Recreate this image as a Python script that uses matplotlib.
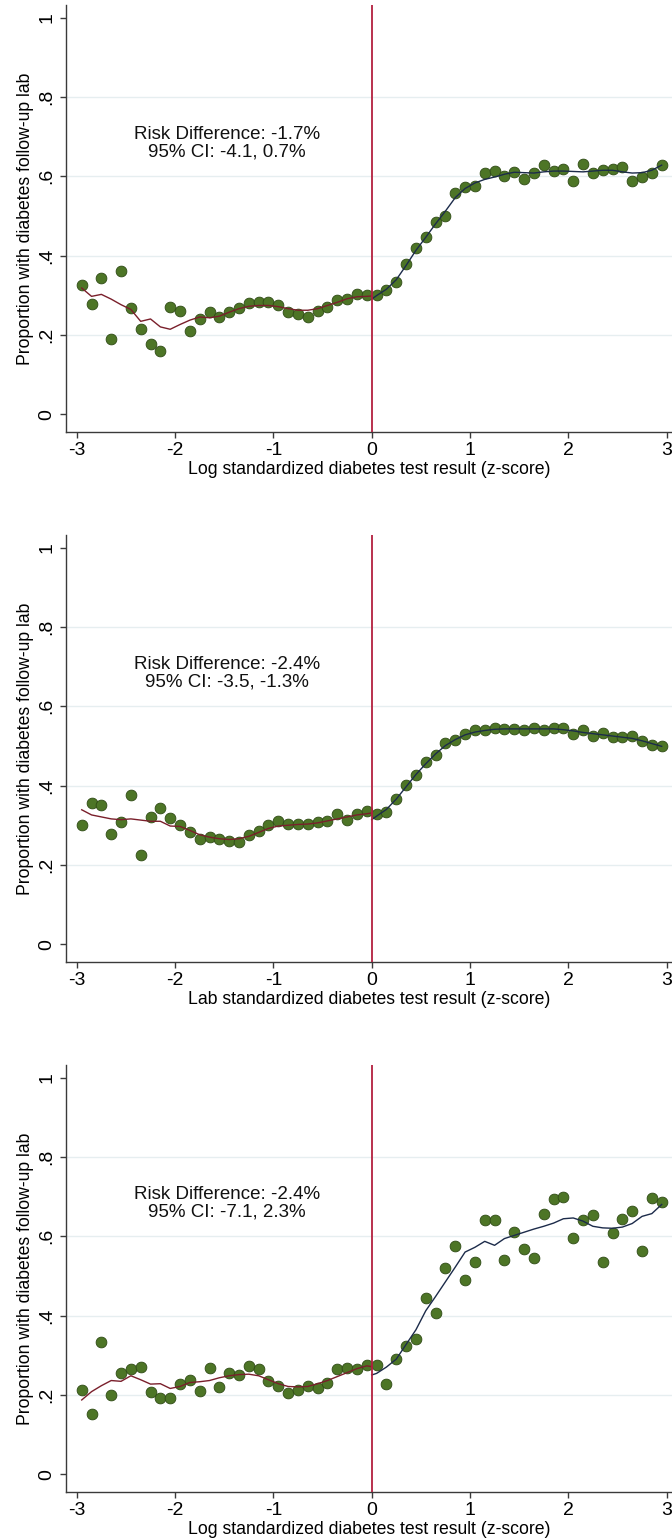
import matplotlib
matplotlib.use("Agg")
import matplotlib.pyplot as plt

plt.rcParams['font.family'] = ['Liberation Sans', 'DejaVu Sans']

# bin centres (z-score)
z_bins = [-2.95, -2.85, -2.75, -2.65, -2.55, -2.45, -2.35, -2.25, -2.15, -2.05,
          -1.95, -1.85, -1.75, -1.65, -1.55, -1.45, -1.35, -1.25, -1.15, -1.05,
          -0.95, -0.85, -0.75, -0.65, -0.55, -0.45, -0.35, -0.25, -0.15, -0.05,
          0.05, 0.15, 0.25, 0.35, 0.45, 0.55, 0.65, 0.75, 0.85, 0.95,
          1.05, 1.15, 1.25, 1.35, 1.45, 1.55, 1.65, 1.75, 1.85, 1.95,
          2.05, 2.15, 2.25, 2.35, 2.45, 2.55, 2.65, 2.75, 2.85, 2.95]

# x positions of the fitted lines (left of cutoff / right of cutoff)
fit_x_left = [-2.95, -2.85, -2.75, -2.65, -2.55, -2.45, -2.35, -2.25, -2.15, -2.05,
              -1.95, -1.85, -1.75, -1.65, -1.55, -1.45, -1.35, -1.25, -1.15, -1.05,
              -0.95, -0.85, -0.75, -0.65, -0.55, -0.45, -0.35, -0.25, -0.15, -0.05, 0.0]
fit_x_right = [0.0, 0.05, 0.15, 0.25, 0.35, 0.45, 0.55, 0.65, 0.75, 0.85, 0.95,
               1.05, 1.15, 1.25, 1.35, 1.45, 1.55, 1.65, 1.75, 1.85, 1.95,
               2.05, 2.15, 2.25, 2.35, 2.45, 2.55, 2.65, 2.75, 2.85, 2.95]

# panel 1
p1_dots = [0.325, 0.278, 0.344, 0.189, 0.360, 0.267, 0.215, 0.177, 0.159, 0.271,
           0.259, 0.210, 0.241, 0.258, 0.244, 0.257, 0.268, 0.281, 0.284, 0.284,
           0.276, 0.257, 0.252, 0.245, 0.261, 0.271, 0.287, 0.290, 0.304, 0.300,
           0.301, 0.314, 0.332, 0.378, 0.420, 0.446, 0.485, 0.500, 0.558, 0.572,
           0.575, 0.608, 0.612, 0.600, 0.611, 0.593, 0.608, 0.629, 0.613, 0.618,
           0.589, 0.630, 0.609, 0.615, 0.619, 0.622, 0.587, 0.599, 0.608, 0.628]
p1_fit_left = [0.318, 0.297, 0.302, 0.290, 0.276, 0.264, 0.234, 0.240, 0.220, 0.214,
               0.226, 0.237, 0.245, 0.243, 0.247, 0.257, 0.266, 0.272, 0.274, 0.274,
               0.271, 0.266, 0.262, 0.262, 0.266, 0.274, 0.282, 0.291, 0.296, 0.297, 0.298]
p1_fit_right = [0.290, 0.299, 0.315, 0.339, 0.375, 0.413, 0.446, 0.480, 0.512, 0.546, 0.569,
                0.583, 0.592, 0.598, 0.605, 0.610, 0.609, 0.608, 0.611, 0.613, 0.613,
                0.612, 0.611, 0.613, 0.615, 0.615, 0.611, 0.608, 0.609, 0.615, 0.628]

# panel 2
p2_dots = [0.300, 0.356, 0.350, 0.279, 0.308, 0.376, 0.224, 0.321, 0.344, 0.319,
           0.301, 0.284, 0.265, 0.270, 0.265, 0.259, 0.258, 0.276, 0.285, 0.301,
           0.310, 0.302, 0.303, 0.302, 0.308, 0.311, 0.328, 0.314, 0.329, 0.336,
           0.329, 0.334, 0.366, 0.402, 0.426, 0.459, 0.476, 0.507, 0.516, 0.531,
           0.539, 0.540, 0.546, 0.543, 0.543, 0.540, 0.546, 0.539, 0.544, 0.546,
           0.531, 0.541, 0.526, 0.533, 0.522, 0.522, 0.524, 0.512, 0.502, 0.499]
p2_fit_left = [0.339, 0.326, 0.321, 0.316, 0.314, 0.316, 0.313, 0.310, 0.310, 0.298,
               0.297, 0.287, 0.276, 0.270, 0.266, 0.264, 0.266, 0.272, 0.282, 0.292,
               0.298, 0.300, 0.302, 0.303, 0.306, 0.311, 0.316, 0.321, 0.326, 0.329, 0.331]
p2_fit_right = [0.314, 0.323, 0.340, 0.366, 0.397, 0.428, 0.455, 0.480, 0.501, 0.516, 0.528,
                0.535, 0.539, 0.542, 0.543, 0.543, 0.543, 0.543, 0.543, 0.543, 0.541,
                0.538, 0.534, 0.531, 0.528, 0.525, 0.522, 0.519, 0.513, 0.506, 0.499]

# panel 3
p3_dots = [0.213, 0.151, 0.333, 0.199, 0.256, 0.266, 0.269, 0.208, 0.191, 0.191,
           0.226, 0.237, 0.209, 0.267, 0.220, 0.255, 0.251, 0.272, 0.265, 0.235,
           0.221, 0.205, 0.213, 0.222, 0.216, 0.231, 0.266, 0.268, 0.264, 0.276,
           0.274, 0.228, 0.290, 0.322, 0.340, 0.444, 0.406, 0.519, 0.575, 0.490,
           0.536, 0.641, 0.641, 0.539, 0.610, 0.568, 0.544, 0.655, 0.695, 0.700,
           0.595, 0.641, 0.654, 0.536, 0.609, 0.644, 0.664, 0.563, 0.696, 0.685]
p3_fit_left = [0.187, 0.208, 0.223, 0.236, 0.234, 0.248, 0.238, 0.227, 0.228, 0.216,
               0.221, 0.231, 0.233, 0.236, 0.243, 0.248, 0.251, 0.252, 0.248, 0.238,
               0.228, 0.221, 0.220, 0.221, 0.228, 0.236, 0.246, 0.256, 0.266, 0.273, 0.271]
p3_fit_right = [0.250, 0.254, 0.270, 0.290, 0.327, 0.364, 0.412, 0.448, 0.485, 0.522, 0.560,
                0.572, 0.587, 0.577, 0.594, 0.602, 0.610, 0.618, 0.625, 0.633, 0.644,
                0.646, 0.638, 0.625, 0.621, 0.620, 0.623, 0.632, 0.650, 0.657, 0.680]

panels = [
    (p1_dots, p1_fit_left, p1_fit_right,
     "Risk Difference: -1.7%\n95% CI: -4.1, 0.7%",
     "Log standardized diabetes test result (z-score)"),
    (p2_dots, p2_fit_left, p2_fit_right,
     "Risk Difference: -2.4%\n95% CI: -3.5, -1.3%",
     "Lab standardized diabetes test result (z-score)"),
    (p3_dots, p3_fit_left, p3_fit_right,
     "Risk Difference: -2.4%\n95% CI: -7.1, 2.3%",
     "Log standardized diabetes test result (z-score)"),
]

y_ticks = [0, 0.2, 0.4, 0.6, 0.8, 1.0]
y_ticklabels = ["0", ".2", ".4", ".6", ".8", "1"]
x_ticks = [-3, -2, -1, 0, 1, 2, 3]

fig = plt.figure(figsize=(6.72, 15.4), dpi=100)

# axes bottoms in figure fraction (pixel rows 432, 962, 1492)
bottoms = [0.7195, 0.3753, 0.0312]

for (dots, fit_l, fit_r, note, xlab), b in zip(panels, bottoms):
    ax = fig.add_axes([0.0982, b, 0.9018, 0.2773])
    ax.set_xlim(-3.11, 3.055)
    ax.set_ylim(-0.045, 1.032)

    for gy in [0.2, 0.4, 0.6, 0.8]:
        ax.axhline(gy, color='#e6eef0', lw=1.0, zorder=0)

    ax.scatter(z_bins, dots, s=60, color='#4d7526', edgecolors='#2e4a14',
               linewidths=0.6, zorder=2)
    ax.plot(fit_x_left, fit_l, color='#7a1f2b', lw=1.0, zorder=3)
    ax.plot(fit_x_right, fit_r, color='#1c2b4a', lw=1.0, zorder=3)
    ax.axvline(0, color='#b3203f', lw=1.3, zorder=4)

    ax.text(-1.47, 0.683, note, ha='center', va='center', fontsize=13.5,
            linespacing=1.0, color='#111111')

    ax.spines['top'].set_visible(False)
    ax.spines['right'].set_visible(False)
    for s in ['left', 'bottom']:
        ax.spines[s].set_color('#3a3a3a')
        ax.spines[s].set_linewidth(1.0)

    ax.set_yticks(y_ticks)
    ax.set_yticklabels(y_ticklabels, rotation=90, va='center')
    ax.set_xticks(x_ticks)
    ax.set_xticklabels([str(t) for t in x_ticks])
    ax.tick_params(axis='both', direction='out', length=4.5, width=1.0,
                   color='#3a3a3a', labelsize=14, pad=3)

    ax.set_ylabel("Proportion with diabetes follow-up lab", fontsize=12.7, labelpad=3)
    ax.set_xlabel(xlab, fontsize=12.7, labelpad=1)

fig.savefig("out.png", dpi=100)
